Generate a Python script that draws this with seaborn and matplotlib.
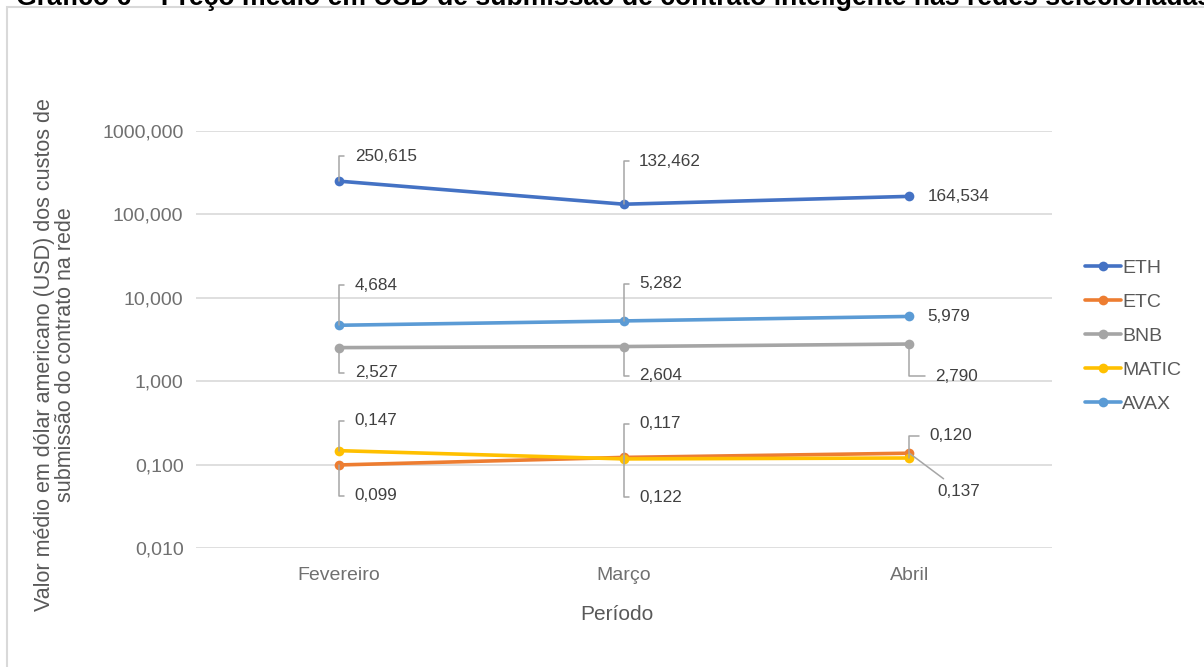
import numpy as np
import pandas as pd
import seaborn as sns
import matplotlib.pyplot as plt
from matplotlib.patches import Rectangle

# dados do gráfico
meses = ['Fevereiro', 'Março', 'Abril']
redes = ['ETH', 'ETC', 'BNB', 'MATIC', 'AVAX']
eth = [250.615, 132.462, 164.534]
etc = [0.099, 0.122, 0.137]
bnb = [2.527, 2.604, 2.790]
matic = [0.147, 0.117, 0.120]
avax = [4.684, 5.282, 5.979]
cores = ['#4472C4', '#ED7D31', '#A5A5A5', '#FFC000', '#5B9BD5']

valores = {'ETH': eth, 'ETC': etc, 'BNB': bnb, 'MATIC': matic, 'AVAX': avax}
df = pd.DataFrame([(m, r, valores[r][i]) for r in redes for i, m in enumerate(meses)],
                  columns=['mes', 'rede', 'valor'])
df['x'] = df['mes'].map({m: i for i, m in enumerate(meses)})

sns.set_theme(style='white')
plt.rcParams['font.family'] = ['Liberation Sans', 'DejaVu Sans']

fig = plt.figure(figsize=(12.04, 6.67), dpi=100)
ax = fig.add_axes([196 / 1204, 1 - 548 / 667, 856 / 1204, 417 / 667])

sns.lineplot(data=df, x='x', y='valor', hue='rede', hue_order=redes, palette=cores,
             marker='o', markersize=7, markeredgewidth=0, linewidth=2.6, ax=ax)

ax.set_yscale('log')
ax.set_ylim(0.01, 1000)
ax.set_xlim(-0.5, 2.5)
ax.set_yticks([0.01, 0.1, 1, 10, 100, 1000])
ax.set_yticklabels(['0,010', '0,100', '1,000', '10,000', '100,000', '1000,000'])
ax.minorticks_off()
ax.set_xticks(range(3))
ax.set_xticklabels(meses)
ax.tick_params(axis='both', length=0, labelsize=14, labelcolor='#707070')
ax.tick_params(axis='y', pad=9)
ax.tick_params(axis='x', pad=14)
ax.grid(axis='y', color='#D9D9D9', linewidth=1.2)
for s in ax.spines.values():
    s.set_visible(False)
ax.set_xlabel('')
ax.set_ylabel('')

# rótulos de dados (deslocamento em pixels e se tem linha de chamada)
rotulos = [
    ('ETH', 0, 16, 25, 'L'), ('ETH', 1, 15, 43, 'L'), ('ETH', 2, 18, 0, None),
    ('AVAX', 0, 16, 40, 'L'), ('AVAX', 1, 15, 37, 'L'), ('AVAX', 2, 18, 0, None),
    ('BNB', 0, 16, -25, 'L'), ('BNB', 1, 15, -29, 'L'), ('BNB', 2, 26, -32, 'L'),
    ('MATIC', 0, 16, 30, 'L'), ('ETC', 0, 16, -31, 'L'),
    ('MATIC', 1, 15, 35, 'L'), ('ETC', 1, 15, -40, 'L'),
    ('MATIC', 2, 20, 22, 'L'), ('ETC', 2, 28, -38, 'D'),
]
for rede, i, dx, dy, tipo in rotulos:
    v = valores[rede][i]
    txt = f'{v:.3f}'.replace('.', ',')
    if tipo == 'L':
        props = dict(arrowstyle='-', color='#A6A6A6', lw=1.1, shrinkA=5, shrinkB=0,
                     connectionstyle='angle,angleA=0,angleB=90,rad=0', relpos=(0, 0.5))
    elif tipo == 'D':
        props = dict(arrowstyle='-', color='#A6A6A6', lw=1.1, shrinkA=2, shrinkB=0,
                     connectionstyle='arc3', relpos=(0.3, 1))
    else:
        props = None
    ax.annotate(txt, xy=(i, v), xytext=(dx, dy), textcoords='offset pixels',
                ha='left', va='center', fontsize=12.3, color='#404040', arrowprops=props)

handles, labels = ax.get_legend_handles_labels()
ax.legend(handles, labels, loc='center left', bbox_to_anchor=(1067 / 1204, 1 - 336 / 667),
          bbox_transform=fig.transFigure, frameon=False, fontsize=14, labelcolor='#595959',
          handlelength=1.9, handletextpad=0.05, labelspacing=0.85)

fig.text(617 / 1204, 1 - 614 / 667, 'Período', ha='center', va='center',
         fontsize=15, color='#595959')
fig.text(55 / 1204, 1 - 355 / 667,
         'Valor médio em dólar americano (USD) dos custos de\nsubmissão do contrato na rede',
         ha='center', va='center', rotation=90, fontsize=15.5, color='#595959',
         linespacing=1.0)

fig.text(16 / 1204, 1 - 5 / 667,
         'Gráfico 6 – Preço médio em USD de submissão de contrato inteligente nas redes selecionadas',
         ha='left', va='baseline', fontsize=19.2, fontweight='bold', color='black')

fig.patches.append(Rectangle((7 / 1204, -0.1), 2, 1 - 7 / 667 + 0.1, transform=fig.transFigure,
                             fill=False, edgecolor='#D9D9D9', linewidth=1.5))

fig.savefig('out.png', dpi=100)
